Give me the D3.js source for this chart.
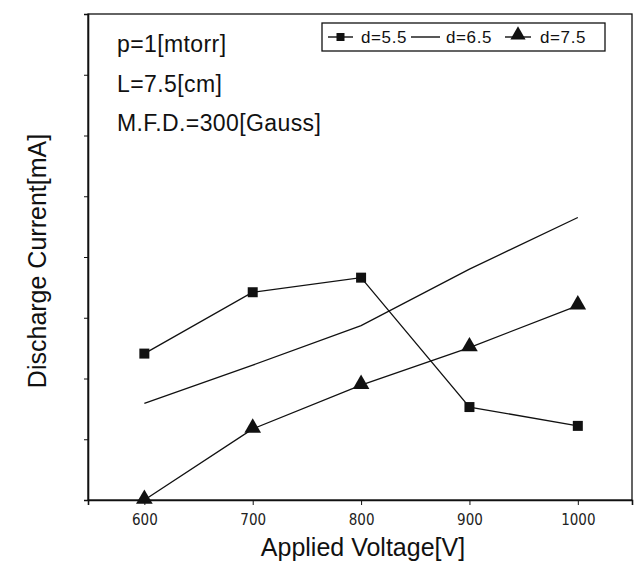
<!DOCTYPE html>
<html>
<head>
<meta charset="utf-8">
<script src="https://cdn.jsdelivr.net/npm/d3@7"></script>
<style>
  html, body { margin: 0; padding: 0; background: #fff; }
  svg { display: block; font-family: "Liberation Sans", Arial, sans-serif; }
</style>
</head>
<body>
<div id="chart"></div>
<script>
// x categories (applied voltage, V)
const voltages = [600, 700, 800, 900, 1000];
const xTickLabels = ['600', '700', '800', '900', '1000'];
// discharge current (y axis labels are not legible, units are grid steps)
const d55 = [2.41, 3.42, 3.66, 1.53, 1.22];
const d65 = [1.59, 2.22, 2.87, 3.80, 4.65];
const d75 = [0.00, 1.17, 1.89, 2.51, 3.20];
const seriesNames = ['d=5.5', 'd=6.5', 'd=7.5'];
const notes = ['p=1[mtorr]', 'L=7.5[cm]', 'M.F.D.=300[Gauss]'];

const W = 642, H = 562;
const frame = { left: 88, right: 632, top: 14, bottom: 500 };

const svg = d3.select('#chart').append('svg')
  .attr('width', W).attr('height', H);

const x = d3.scaleLinear().domain([548, 1050]).range([frame.left, frame.right]);
const y = d3.scaleLinear().domain([0, 8]).range([frame.bottom, frame.top]);

// frame
svg.append('rect')
  .attr('x', frame.left).attr('y', frame.top)
  .attr('width', frame.right - frame.left).attr('height', frame.bottom - frame.top)
  .attr('fill', 'none').attr('stroke', '#111').attr('stroke-width', 1.3);

// x axis
const xAxis = svg.append('g')
  .attr('transform', `translate(0,${frame.bottom})`)
  .call(d3.axisBottom(x).tickValues(voltages).tickSize(5).tickPadding(9)
    .tickFormat((d, i) => xTickLabels[i]));
xAxis.select('.domain').attr('stroke', '#111').attr('stroke-width', 1.6);
xAxis.selectAll('line').attr('stroke', '#111');
xAxis.selectAll('text')
  .style('font-family', '"Liberation Sans Narrow", "DejaVu Sans Condensed", sans-serif')
  .style('font-size', '15px').attr('fill', '#222');

// y axis (ticks only, labels illegible in source)
const yAxis = svg.append('g')
  .attr('transform', `translate(${frame.left},0)`)
  .call(d3.axisLeft(y).ticks(8).tickSize(4).tickFormat(''));
yAxis.select('.domain').attr('stroke', '#111').attr('stroke-width', 1.6);
yAxis.selectAll('line').attr('stroke', '#111');

// axis titles
svg.append('text')
  .attr('x', 363).attr('y', 556)
  .attr('text-anchor', 'middle').style('font-size', '25px').attr('fill', '#111')
  .text('Applied Voltage[V]');
svg.append('text')
  .attr('transform', `translate(46,261) rotate(-90)`)
  .attr('text-anchor', 'middle').style('font-size', '25px').attr('fill', '#111')
  .text('Discharge Current[mA]');

// condition notes
svg.selectAll('.note').data(notes).join('text')
  .attr('class', 'note')
  .attr('x', 117).attr('y', (d, i) => 52 + i * 39.5)
  .style('font-size', '23px').style('letter-spacing', '0.4px').attr('fill', '#111')
  .text(d => d);

// series
const series = [
  { name: seriesNames[0], values: d55, marker: 'square' },
  { name: seriesNames[1], values: d65, marker: 'none' },
  { name: seriesNames[2], values: d75, marker: 'triangle' }
];

const line = d3.line().x(d => x(d.v)).y(d => y(d.c));
const sq = d3.symbol().type(d3.symbolSquare).size(100);
const tri = d3.symbol().type(d3.symbolTriangle).size(120);

series.forEach(s => {
  const pts = voltages.map((v, i) => ({ v, c: s.values[i] }));
  svg.append('path').datum(pts)
    .attr('d', line).attr('fill', 'none')
    .attr('stroke', '#111').attr('stroke-width', 1.3);
  if (s.marker !== 'none') {
    svg.selectAll(null).data(pts).join('path')
      .attr('transform', d => `translate(${x(d.v)},${y(d.c) + (s.marker === 'triangle' ? -1 : 0)})`)
      .attr('d', s.marker === 'square' ? sq : tri)
      .attr('fill', '#111');
  }
});

// legend
const lg = svg.append('g').attr('transform', 'translate(322,23)');
lg.append('rect').attr('width', 283).attr('height', 28)
  .attr('fill', '#fff').attr('stroke', '#111').attr('stroke-width', 1.3);
const sampleX = [6, 89, 183];
const sampleW = [25, 29, 26];
const textX = [39, 124, 218];
series.forEach((s, i) => {
  lg.append('line')
    .attr('x1', sampleX[i]).attr('x2', sampleX[i] + sampleW[i])
    .attr('y1', 14).attr('y2', 14)
    .attr('stroke', '#111').attr('stroke-width', 1.4);
  if (s.marker !== 'none') {
    lg.append('path')
      .attr('transform', `translate(${sampleX[i] + sampleW[i] / 2},${s.marker === 'triangle' ? 12 : 14})`)
      .attr('d', d3.symbol().type(s.marker === 'square' ? d3.symbolSquare : d3.symbolTriangle).size(s.marker === 'square' ? 64 : 100))
      .attr('fill', '#111');
  }
  lg.append('text')
    .attr('x', textX[i]).attr('y', 20)
    .style('font-size', '17px').style('letter-spacing', '0.6px').attr('fill', '#111')
    .text(s.name);
});
</script>
</body>
</html>
